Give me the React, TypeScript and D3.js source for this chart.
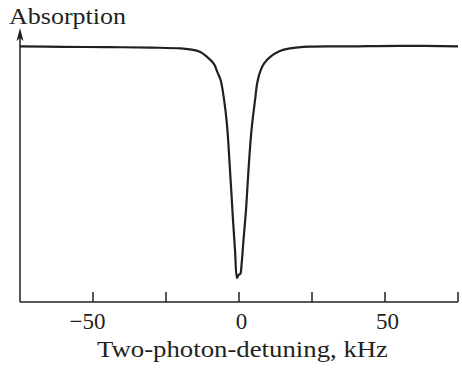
import React, { useEffect, useRef } from "react";
import * as d3 from "d3";

// detuning (kHz) and absorption (arb. units)
const detuning = [
  -75, -60, -45, -30, -20, -16.8, -13.4, -11, -8.6, -7.4, -6.3, -5.1, -4.11, -3.08, -2.05,
  -1.37, -0.68, -0.17, 0.45, 0.86, 1.54, 2.4, 3.25, 4.28, 5.5, 6.3, 7.3, 8.6, 10.6, 14,
  17.5, 24, 38, 55, 75,
];
const absorption = [
  1.002, 1.0, 0.999, 0.997, 0.994, 0.99, 0.981, 0.961, 0.933, 0.901, 0.87, 0.792, 0.694,
  0.517, 0.321, 0.204, 0.094, 0.106, 0.11, 0.145, 0.243, 0.361, 0.517, 0.674, 0.792,
  0.862, 0.905, 0.935, 0.96, 0.984, 0.994, 1.001, 1.002, 1.004, 1.002,
];
const xTicks = [-75, -50, -25, 0, 25, 50, 75];
const xTickLabels = ["", "\u221250", "", "0", "", "50", ""];
const xAxisLabel = "Two-photon-detuning, kHz";
const yAxisLabel = "Absorption";

const App = () => {
  const svgRef = useRef<SVGSVGElement | null>(null);
  const svgWidth = 462;
  const svgHeight = 368;
  const ink = "#231f20";

  useEffect(() => {
    const svg = d3.select(svgRef.current);
    svg.selectAll("*").remove();

    const xScale = d3.scaleLinear().domain([-75, 75]).range([20, 458]);
    const yScale = d3.scaleLinear().domain([0, 1.07]).range([302, 29]);

    const font = "'Liberation Serif', 'Times New Roman', serif";

    // x axis
    svg
      .append("line")
      .attr("x1", xScale(-75))
      .attr("x2", xScale(75))
      .attr("y1", yScale(0))
      .attr("y2", yScale(0))
      .attr("stroke", ink)
      .attr("stroke-width", 1.5);

    svg
      .append("g")
      .selectAll("line")
      .data(xTicks.slice(1))
      .enter()
      .append("line")
      .attr("x1", (d) => xScale(d))
      .attr("x2", (d) => xScale(d))
      .attr("y1", yScale(0))
      .attr("y2", yScale(0) - 10)
      .attr("stroke", ink)
      .attr("stroke-width", 1.5);

    // tick labels: digits centred a little right of the tick, minus hangs left
    svg
      .append("g")
      .selectAll("text")
      .data(xTicks)
      .enter()
      .append("text")
      .attr("x", (d) => xScale(d) + 2.5 - (d < 0 ? 8 : 0))
      .attr("y", 329)
      .attr("text-anchor", "middle")
      .attr("font-family", font)
      .attr("font-size", 23)
      .attr("fill", ink)
      .text((d, i) => xTickLabels[i]);

    svg
      .append("text")
      .attr("x", 97)
      .attr("y", 357)
      .attr("textLength", 291)
      .attr("lengthAdjust", "spacingAndGlyphs")
      .attr("font-family", font)
      .attr("font-size", 24)
      .attr("fill", ink)
      .text(xAxisLabel);

    // y axis with arrow
    const ax = xScale(-75);
    svg
      .append("line")
      .attr("x1", ax)
      .attr("x2", ax)
      .attr("y1", yScale(0))
      .attr("y2", 32)
      .attr("stroke", ink)
      .attr("stroke-width", 1.5);

    svg
      .append("path")
      .attr("d", `M${ax},28 L${ax - 3.5},41 L${ax},38 L${ax + 3.5},41 Z`)
      .attr("fill", ink);

    svg
      .append("text")
      .attr("x", 9)
      .attr("y", 24)
      .attr("textLength", 117)
      .attr("lengthAdjust", "spacingAndGlyphs")
      .attr("font-family", font)
      .attr("font-size", 23)
      .attr("fill", ink)
      .text(yAxisLabel);

    // absorption curve
    const line = d3
      .line<number>()
      .x((d, i) => xScale(detuning[i]))
      .y((d) => yScale(d))
      .curve(d3.curveCatmullRom.alpha(0.5));

    svg
      .append("path")
      .attr("d", line(absorption))
      .attr("fill", "none")
      .attr("stroke", ink)
      .attr("stroke-width", 2.2)
      .attr("stroke-linejoin", "round");
  }, []);

  return (
    <svg
      ref={svgRef}
      width={svgWidth}
      height={svgHeight}
      style={{ position: "absolute", left: 0, top: 0, background: "#fff" }}
    ></svg>
  );
};

export default App;
